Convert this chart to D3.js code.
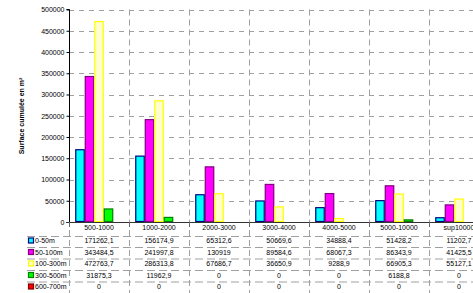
<!DOCTYPE html>
<html><head><meta charset="utf-8">
<script src="https://cdn.jsdelivr.net/npm/d3@7/dist/d3.min.js"></script>
<style>body{margin:0;background:#fff}svg{display:block;font-family:"Liberation Sans",Arial,sans-serif}</style>
</head><body><svg id="c" width="473" height="293"></svg>
<script>
const categories = ["500-1000","1000-2000","2000-3000","3000-4000","4000-5000","5000-10000","sup10000"];
const seriesNames = ["0-50m","50-100m","100-300m","300-500m","600-700m"];
const s0_50 = [171262.1,156174.9,65312.6,50669.6,34888.4,51428.2,11202.7];
const s50_100 = [343484.5,241997.8,130919,89584.6,68067.3,86343.9,41425.5];
const s100_300 = [472763.7,286313.8,67686.7,36650.9,9288.9,66905.3,55127.1];
const s300_500 = [31875.3,11962.9,0,0,0,6188.8,0];
const s600_700 = [0,0,0,0,0,0,0];
const yTicks = [0,50000,100000,150000,200000,250000,300000,350000,400000,450000,500000];
const series = [s0_50,s50_100,s100_300,s300_500,s600_700];
const fills = ["#00ffff","#ff00ff","#ffffcc","#00ff00","#ff0000"];
const strokes = ["#000080","#800080","#ffff00","#008000","#800000"];
const fmt = v => String(v).replace(".", ",");

const svg = d3.select("#c");
const x0 = 69, x1 = 489, yTop = 9.5, yBot = 222;
const x = d3.scaleBand().domain(categories).range([x0, x1]).paddingInner(0).paddingOuter(0);
const y = d3.scaleLinear().domain([0,500000]).range([yBot, yTop]);
const xs = d3.scaleBand().domain(d3.range(5)).range([0, x.bandwidth()]).paddingOuter(0.66).paddingInner(0);

// horizontal gridlines
svg.append("g").selectAll("line").data(yTicks.slice(1)).join("line")
  .attr("x1", x0).attr("x2", 473).attr("y1", d => Math.round(y(d))+0.5).attr("y2", d => Math.round(y(d))+0.5)
  .attr("stroke", "#a0a0a0").attr("stroke-dasharray", "5,5");
// vertical gridlines (category boundaries) through plot and table
const bounds = categories.map(c => x(c)).concat([x1]).slice(1);
svg.append("g").selectAll("line").data(bounds).join("line")
  .attr("x1", d => d+0.5).attr("x2", d => d+0.5).attr("y1", yTop).attr("y2", yBot)
  .attr("stroke", "#a0a0a0").attr("stroke-dasharray", "6,4");

// bars
categories.forEach((c, ci) => {
  series.forEach((s, si) => {
    const v = s[ci];
    if (v <= 0) return;
    svg.append("rect")
      .attr("x", x(c) + xs(si) + 0.5).attr("y", y(v) + 0.5)
      .attr("width", xs.bandwidth() - 1).attr("height", yBot - y(v) - 1)
      .attr("fill", fills[si]).attr("stroke", strokes[si]).attr("stroke-width", 1.2);
  });
});

// y axis
const ya = d3.axisLeft(y).tickValues(yTicks).tickSize(3).tickFormat(d => d);
const gy = svg.append("g").attr("transform", `translate(${x0+0.5},0)`).call(ya);
gy.select(".domain").attr("stroke", "#000").attr("d", `M-3,${y(500000)}H0V${yBot}`);
gy.selectAll(".tick line").attr("stroke", "#000");
gy.selectAll("text").attr("font-size", 7).attr("fill", "#000").attr("x", -5);

// x axis line
svg.append("line").attr("x1", x0-3).attr("x2", 473).attr("y1", yBot+0.5).attr("y2", yBot+0.5).attr("stroke", "#333");
svg.append("g").selectAll("line").data([x0].concat(bounds)).join("line")
  .attr("x1", d => d+0.5).attr("x2", d => d+0.5).attr("y1", yBot).attr("y2", yBot+5).attr("stroke", "#666");

// y label
svg.append("text").attr("transform", "translate(24,116) rotate(-90)").attr("text-anchor", "middle")
  .attr("font-size", 7).attr("font-weight", "bold").text("Surface cumulée en m²");

// data table
const rowY = [228, 241, 252.5, 264, 275.5, 287];
const lineY = [236, 247, 258.5, 270, 281.5, 293];
svg.append("g").selectAll("text").data(categories).join("text")
  .attr("x", d => x(d) + x.bandwidth()/2).attr("y", rowY[0]).attr("dy", "0.35em")
  .attr("text-anchor", "middle").attr("font-size", 7).text(d => d);
svg.append("g").selectAll("line").data(lineY).join("line")
  .attr("x1", 27).attr("x2", 473).attr("y1", d => d+0.5).attr("y2", d => d+0.5)
  .attr("stroke", "#a0a0a0").attr("stroke-dasharray", "8,4");
svg.append("g").selectAll("line").data([x0].concat(bounds)).join("line")
  .attr("x1", d => d+0.5).attr("x2", d => d+0.5).attr("y1", 230).attr("y2", 293)
  .attr("stroke", "#a0a0a0").attr("stroke-dasharray", "6,4");
series.forEach((s, si) => {
  const ry = rowY[si+1];
  svg.append("rect").attr("x", 28.5).attr("y", ry - 3).attr("width", 5).attr("height", 5)
    .attr("fill", fills[si]).attr("stroke", strokes[si]).attr("stroke-width", 1.2);
  svg.append("text").attr("x", 35).attr("y", ry).attr("dy", "0.35em").attr("font-size", 7).text(seriesNames[si]);
  svg.append("g").selectAll("text").data(s).join("text")
    .attr("x", (d, i) => x(categories[i]) + x.bandwidth()/2).attr("y", ry).attr("dy", "0.35em")
    .attr("text-anchor", "middle").attr("font-size", 7).text(d => fmt(d));
});
</script></body></html>
